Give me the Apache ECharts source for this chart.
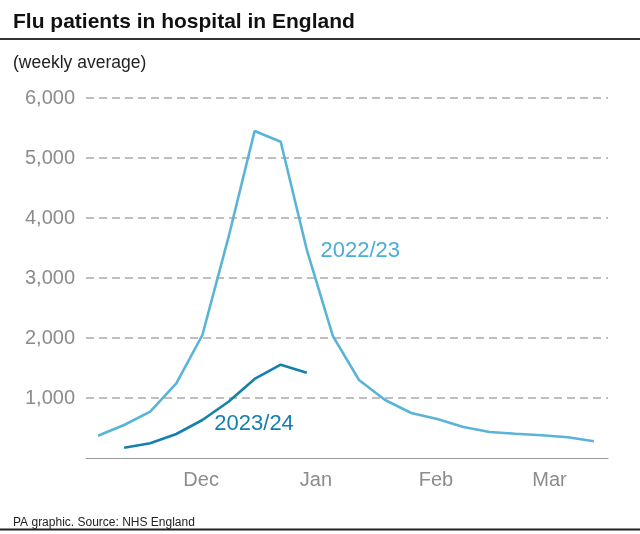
<!DOCTYPE html>
<html>
<head>
<meta charset="utf-8">
<script src="https://cdn.jsdelivr.net/npm/echarts@6/dist/echarts.min.js"></script>
<style>
html,body{margin:0;padding:0;background:#fff;}
#c{width:640px;height:534px;}
</style>
</head>
<body>
<div id="c"></div>
<script>
// Week index (0 = first week shown, early November)
const weeks2223 = [0,1,2,3,4,5,6,7,8,9,10,11,12,13,14,15,16,17,18,19];
const values2223 = [372,550,772,1245,2050,3680,5450,5270,3470,2030,1300,967,750,650,517,433,405,378,345,278];
const weeks2324 = [1,2,3,4,5,6,7,8];
const values2324 = [172,245,400,633,938,1317,1555,1422];
const monthLabels = ['Dec','Jan','Feb','Mar'];
const monthPositions = [3.95,8.35,12.95,17.3];

const chart = echarts.init(document.getElementById('c'), null, {renderer:'canvas'});
const FONT = 'Liberation Sans';
chart.setOption({
  animation:false,
  textStyle:{fontFamily:FONT},
  title:[
    {text:'Flu patients in hospital in England', left:8, top:7,
     textStyle:{fontFamily:FONT, fontWeight:'bold', fontSize:21, color:'#111'}},
    {text:'(weekly average)', left:8, top:49,
     textStyle:{fontFamily:FONT, fontWeight:'normal', fontSize:17.5, color:'#222'}},
    {text:'PA graphic. Source: NHS England', left:8, top:512,
     textStyle:{fontFamily:FONT, fontWeight:'normal', fontSize:12, color:'#222'}}
  ],
  graphic:[
    {type:'line', shape:{x1:0,y1:39,x2:640,y2:39}, style:{stroke:'#333', lineWidth:2}},
    {type:'line', shape:{x1:0,y1:529.5,x2:640,y2:529.5}, style:{stroke:'#222', lineWidth:2}}
  ],
  grid:{left:86, right:32, top:98, bottom:76, containLabel:false},
  xAxis:{
    type:'value', min:-0.46, max:19.54,
    splitLine:{show:false},
    axisLine:{show:true, lineStyle:{color:'#999', width:1}},
    axisTick:{show:false},
    axisLabel:{
      customValues: monthPositions,
      formatter: function(v){ const i = monthPositions.indexOf(v); return i>=0 ? monthLabels[i] : ''; },
      color:'#8c8c8c', fontSize:20, fontFamily:FONT, margin:12
    }
  },
  yAxis:{
    type:'value', min:0, max:6000, interval:1000,
    axisLine:{show:false}, axisTick:{show:false},
    axisLabel:{
      formatter: function(v){ return v===0 ? '' : v.toLocaleString('en-GB'); },
      color:'#8c8c8c', fontSize:20, fontFamily:FONT, margin:11
    },
    splitLine:{show:true, lineStyle:{color:'#aaa', type:[8,5], width:1.5},
      showMinLine:false}
  },
  series:[
    {name:'2022/23', type:'line', data:weeks2223.map((w,i)=>[w,values2223[i]]),
     showSymbol:false, symbol:'none', lineStyle:{color:'#5ab4d8', width:2.6}, z:3,
     markPoint:{symbol:'circle', symbolSize:0, silent:true,
       data:[{coord:[10.05,3450], label:{show:true, formatter:'2022/23', position:'inside',
         color:'#4aaed6', fontSize:22, fontFamily:FONT}}]}},
    {name:'2023/24', type:'line', data:weeks2324.map((w,i)=>[w,values2324[i]]),
     showSymbol:false, symbol:'none', lineStyle:{color:'#1680ad', width:2.6}, z:4,
     markPoint:{symbol:'circle', symbolSize:0, silent:true,
       data:[{coord:[5.98,567], label:{show:true, formatter:'2023/24', position:'inside',
         color:'#1680ad', fontSize:22, fontFamily:FONT}}]}}
  ]
});
</script>
</body>
</html>
